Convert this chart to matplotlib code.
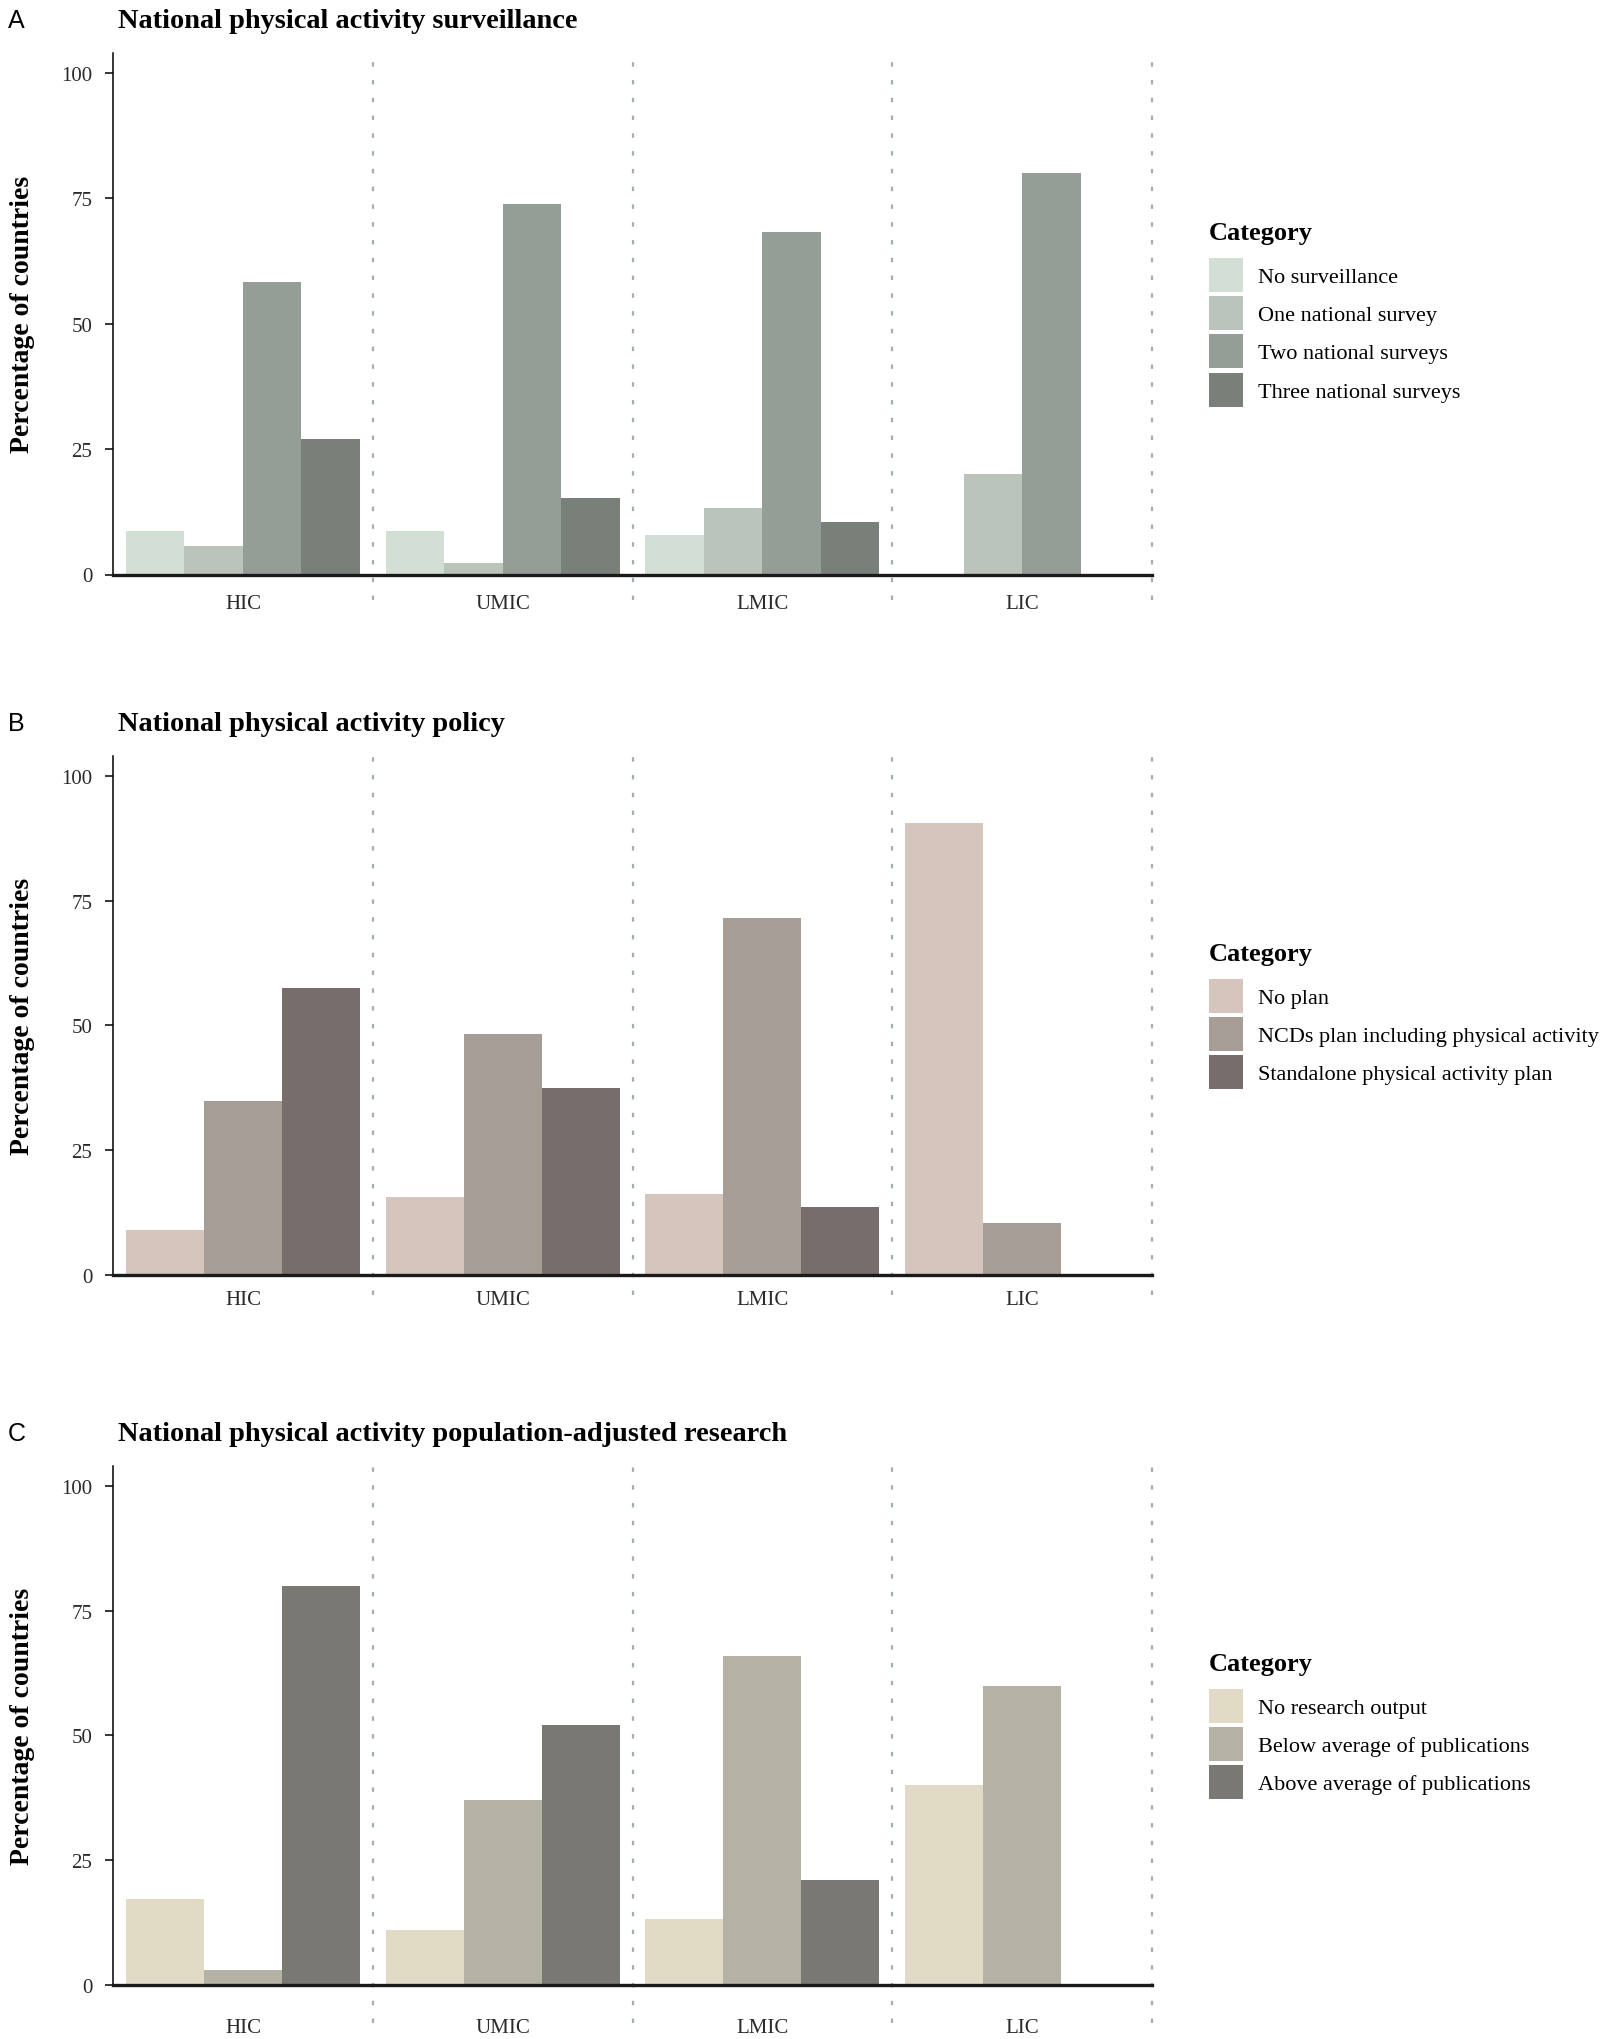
import numpy as np
import matplotlib
matplotlib.use('Agg')
import matplotlib.pyplot as plt

SERIF = 'Liberation Serif'
SANS = 'Liberation Sans'

groups = ['HIC', 'UMIC', 'LMIC', 'LIC']

# A - surveillance
surv_labels = ['No surveillance', 'One national survey', 'Two national surveys', 'Three national surveys']
surv_none = [8.6, 8.7, 7.8, 0.0]
surv_one = [5.6, 2.2, 13.2, 20.0]
surv_two = [58.4, 73.8, 68.3, 80.0]
surv_three = [27.0, 15.2, 10.5, 0.0]
surv_colors = ['#d3dfd5', '#bac4ba', '#959e96', '#788079']

# B - policy
policy_labels = ['No plan', 'NCDs plan including physical activity', 'Standalone physical activity plan']
policy_none = [9.1, 15.6, 16.3, 90.5]
policy_ncd = [34.8, 48.2, 71.6, 10.5]
policy_standalone = [57.6, 37.5, 13.7, 0.0]
policy_colors = ['#d6c5bc', '#a79d97', '#776e6b']

# C - research
research_labels = ['No research output', 'Below average of publications', 'Above average of publications']
research_none = [17.2, 11.0, 13.3, 40.0]
research_below = [3.0, 37.1, 65.9, 60.0]
research_above = [80.0, 52.1, 21.0, 0.0]
research_colors = ['#e1dbc6', '#b4b1a5', '#797872']

W, H = 1611, 2040
fig = plt.figure(figsize=(W / 100, H / 100), dpi=100)

def px(x, y):
    return x / W, 1 - y / H

def draw_panel(top_px, zero_px, letter, title, series, labels, colors, xlab_off):
    left, bottom = px(113, zero_px)
    ax = fig.add_axes([left, bottom, (1152 - 113) / W, (zero_px - top_px) / H])
    x = np.arange(len(groups))
    n = len(series)
    w = 0.9 / n
    for i in range(n):
        ax.bar(x - 0.45 + w * (i + 0.5), series[i], w, color=colors[i],
               label=labels[i], linewidth=0)
    ax.set_xlim(-0.5, 3.5)
    ax.set_ylim(0, 104)
    ax.set_yticks([0, 25, 50, 75, 100])
    ax.set_xticks(x)
    ax.set_xticklabels(groups)
    for s in ['top', 'right']:
        ax.spines[s].set_visible(False)
    ax.spines['left'].set_linewidth(1.1)
    ax.spines['bottom'].set_linewidth(2.4)
    ax.spines['bottom'].set_color('#1a1a1a')
    ax.tick_params(axis='y', length=6, width=1.1, pad=9, labelsize=15, labelcolor='#2a2a2a')
    ax.tick_params(axis='x', length=0, pad=(xlab_off - 7) / 1.389, labelsize=15, labelcolor='#2a2a2a')
    for lab in ax.get_xticklabels() + ax.get_yticklabels():
        lab.set_fontfamily(SERIF)

    # dotted separators between income groups
    h = zero_px - top_px
    for xv in [0.5, 1.5, 2.5, 3.5]:
        ax.axvline(xv, ymin=-(xlab_off - 2) / h, ymax=1.0, color='#a3aeb5',
                   linewidth=1.6, linestyle=(0, (2, 6)), clip_on=False, zorder=0)

    cy = 1 - (top_px + zero_px) / 2 / H
    fig.text(23 / W, cy, 'Percentage of countries', rotation=90, ha='center', va='center',
             family=SERIF, fontsize=20, fontweight='bold')
    base = top_px - 26
    fig.text(118 / W, 1 - base / H, title, ha='left', va='baseline',
             family=SERIF, fontsize=20.4, fontweight='bold')
    fig.text(8 / W, 1 - base / H, letter, ha='left', va='baseline',
             family=SANS, fontsize=18)

    leg = ax.legend(loc='center left', bbox_to_anchor=(1209 / W, cy), bbox_transform=fig.transFigure,
                    frameon=False, title='Category', borderpad=0, borderaxespad=0,
                    prop={'family': SERIF, 'size': 16},
                    title_fontproperties={'family': SERIF, 'size': 19, 'weight': 'bold'},
                    handlelength=1.53, handleheight=1.98, labelspacing=0.19,
                    handletextpad=0.68, alignment='left')
    # more room between legend title and the keys
    leg._legend_box.sep = 10
    return ax

draw_panel(54, 575.5, 'A', 'National physical activity surveillance',
           [surv_none, surv_one, surv_two, surv_three], surv_labels, surv_colors, 27)
draw_panel(757, 1276, 'B', 'National physical activity policy',
           [policy_none, policy_ncd, policy_standalone], policy_labels, policy_colors, 22)
draw_panel(1467, 1986, 'C', 'National physical activity population-adjusted research',
           [research_none, research_below, research_above], research_labels, research_colors, 40)

fig.savefig('out.png', dpi=100)
